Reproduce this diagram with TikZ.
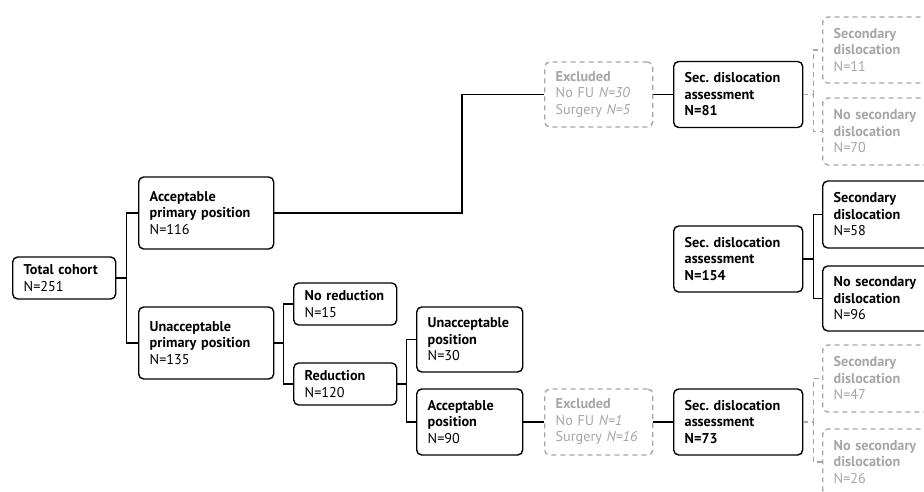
\documentclass[tikz,border=0pt]{standalone}
\usepackage{fontspec}
\setmainfont{PT Sans}
\usetikzlibrary{calc}
\definecolor{lgray}{HTML}{A6A6A6}
\frenchspacing
\tikzset{
  bx/.style n args={2}{draw=black, line width=1.4pt, rounded corners=5pt, anchor=west,
     minimum height=#2, text width=#1-22pt, inner xsep=11pt, inner ysep=2pt, align=left,
     font=\fontsize{14.2}{16.5}\selectfont\frenchspacing},
  gbx/.style n args={2}{bx={#1}{#2}, draw=lgray, dashed, dash pattern=on 5pt off 4pt, text=lgray},
  cn/.style={draw=black, line width=1.2pt},
  gcn/.style={draw=lgray, line width=1.2pt, dash pattern=on 5pt off 4pt},
}
\begin{document}
\begin{tikzpicture}[x=1pt,y=-1pt]
\clip (0,0) rectangle (924,492);
\fill[white] (0,0) rectangle (924,492);
% column 1
\node[bx={103pt}{42pt}] (tot) at (12,278) {\textbf{Total cohort}\\N=251};
\node[bx={135pt}{72pt}] (app) at (138,213) {\textbf{Acceptable}\\\textbf{primary position}\\N=116};
\node[bx={135pt}{72pt}] (upp) at (138,343) {\textbf{Unacceptable}\\\textbf{primary position}\\N=135};
\node[bx={103pt}{42pt}] (nored) at (293,304) {\textbf{No reduction}\\N=15};
\node[bx={103pt}{42pt}] (red) at (293,384) {\textbf{Reduction}\\N=120};
\node[bx={106pt}{65pt}] (unpos) at (416,339.5) {\textbf{Unacceptable}\\\textbf{position}\\N=30};
\node[bx={106pt}{66pt}] (accpos) at (416,422) {\textbf{Acceptable}\\\textbf{position}\\N=90};
% excluded
\node[gbx={108pt}{65pt}] (exa) at (544,94.5) {\textbf{Excluded}\\No FU \textit{N=30}\\Surgery \textit{N=5}};
\node[gbx={108pt}{66pt}] (exb) at (544,422) {\textbf{Excluded}\\No FU \textit{N=1}\\Surgery \textit{N=16}};
% assessments
\node[bx={129pt}{66pt}] (sda) at (673,94.5) {\textbf{Sec. dislocation}\\\textbf{assessment}\\\textbf{N=81}};
\node[bx={129pt}{66pt}] (sdb) at (673,259) {\textbf{Sec. dislocation}\\\textbf{assessment}\\\textbf{N=154}};
\node[bx={129pt}{66pt}] (sdc) at (673,422) {\textbf{Sec. dislocation}\\\textbf{assessment}\\\textbf{N=73}};
% outcomes
\node[gbx={130pt}{66pt}] (s11) at (822,50) {\textbf{Secondary}\\\textbf{dislocation}\\N=11};
\node[gbx={130pt}{67pt}] (n70) at (822,131.5) {\textbf{No secondary}\\\textbf{dislocation}\\N=70};
\node[bx={130pt}{67pt}] (s58) at (822,214.5) {\textbf{Secondary}\\\textbf{dislocation}\\N=58};
\node[bx={130pt}{65pt}] (n96) at (822,298.5) {\textbf{No secondary}\\\textbf{dislocation}\\N=96};
\node[gbx={130pt}{67pt}] (s47) at (822,378.5) {\textbf{Secondary}\\\textbf{dislocation}\\N=47};
\node[gbx={130pt}{66pt}] (n26) at (822,462) {\textbf{No secondary}\\\textbf{dislocation}\\N=26};
% connectors
\draw[cn] (tot.east) -- ++(10,0) |- (app.west);
\draw[cn] (tot.east) -- ++(10,0) |- (upp.west);
\draw[cn] (upp.east) -- ++(9,0) |- (nored.west);
\draw[cn] (upp.east) -- ++(9,0) |- (red.west);
\draw[cn] (red.east) -- ++(9,0) |- (unpos.west);
\draw[cn] (red.east) -- ++(9,0) |- (accpos.west);
\draw[cn] (app.east) -| ([xshift=-82pt]exa.west) -- (exa.west);
\draw[cn] (exa.east) -- (sda.west);
\draw[cn] (accpos.east) -- (exb.west);
\draw[cn] (exb.east) -- (sdc.west);
\draw[gcn] (sda.east) -- ++(10,0) |- (s11.west);
\draw[gcn] (sda.east) -- ++(10,0) |- (n70.west);
\draw[cn] (sdb.east) -- ++(10,0) |- (s58.west);
\draw[cn] (sdb.east) -- ++(10,0) |- (n96.west);
\draw[gcn] (sdc.east) -- ++(10,0) |- (s47.west);
\draw[gcn] (sdc.east) -- ++(10,0) |- (n26.west);
\end{tikzpicture}
\end{document}
